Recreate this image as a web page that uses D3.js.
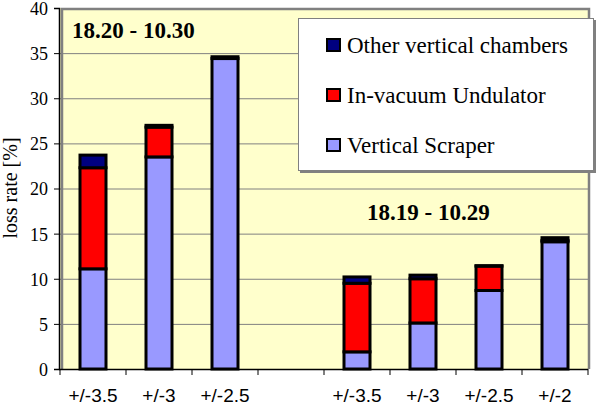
<!DOCTYPE html>
<html>
<head>
<meta charset="utf-8">
<script src="https://cdn.jsdelivr.net/npm/d3@7"></script>
<style>
  body { margin: 0; background: #fff; }
  svg { display: block; }
</style>
</head>
<body>
<svg class="chart"></svg>
<script>
// slots: first period, gap, second period
const categories = ['+/-3.5', '+/-3', '+/-2.5', '', '+/-3.5', '+/-3', '+/-2.5', '+/-2']
const scraper = [11.1, 23.5, 34.4, 0, 1.9, 5.1, 8.7, 14.1]
const undulator = [11.2, 3.3, 0, 0, 7.6, 4.9, 2.7, 0.15]
const other = [1.4, 0.2, 0.2, 0, 0.7, 0.4, 0.05, 0.3]
const seriesNames = ['Other vertical chambers', 'In-vacuum Undulator', 'Vertical Scraper']
const seriesColors = ['#000080', '#ff0000', '#9999ff']
const periods = ['18.20 - 10.30', '18.19 - 10.29']
const yTicks = [0, 5, 10, 15, 20, 25, 30, 35, 40]

const serif = 'Liberation Serif'
const sans = 'Liberation Sans'

const width = 597
const height = 405
const plotLeft = 60
const plotRight = 588
const plotTop = 8
const plotBottom = 369

const chart = d3.select('.chart').attr('width', width).attr('height', height)

const xScale = d3.scaleBand()
  .domain(d3.range(categories.length))
  .range([plotLeft, plotRight])

const yScale = d3.scaleLinear()
  .domain([0, 40])
  .range([plotBottom, plotTop])

// plot area
chart.append('rect')
  .attr('x', plotLeft).attr('y', plotTop)
  .attr('width', plotRight - plotLeft).attr('height', plotBottom - plotTop)
  .attr('fill', '#ffffcc')

chart.append('g').attr('class', 'grid')
  .selectAll('line')
  .data(yTicks.slice(1, -1))
  .enter()
  .append('line')
  .attr('x1', plotLeft).attr('x2', plotRight)
  .attr('y1', d => yScale(d) + 0.5).attr('y2', d => yScale(d) + 0.5)
  .attr('stroke', '#808080')
  .attr('stroke-width', 1)

// gray frame of the plot area
chart.append('path')
  .attr('d', `M${plotLeft + 2},${plotBottom} V${plotTop + 1} H${plotRight + 1} V${plotBottom}`)
  .attr('fill', 'none')
  .attr('stroke', '#808080')
  .attr('stroke-width', 2.5)

// stacked bars
const stacks = categories.map((c, i) => {
  const s0 = scraper[i]
  const s1 = s0 + undulator[i]
  const s2 = s1 + other[i]
  return [
    { i, y0: 0, y1: s0, color: seriesColors[2] },
    { i, y0: s0, y1: s1, color: seriesColors[1] },
    { i, y0: s1, y1: s2, color: seriesColors[0] }
  ]
}).filter((d, i) => categories[i] !== '')

const barWidth = 26
chart.append('g').attr('class', 'bars')
  .selectAll('g')
  .data(stacks)
  .enter()
  .append('g')
  .attr('transform', d => `translate(${xScale(d[0].i) + (xScale.step() - barWidth) / 2},0)`)
  .selectAll('rect')
  .data(d => d)
  .enter()
  .append('rect')
  .attr('x', 0)
  .attr('y', d => yScale(d.y1))
  .attr('width', barWidth)
  .attr('height', d => yScale(d.y0) - yScale(d.y1))
  .attr('fill', d => d.color)
  .attr('stroke', '#000')
  .attr('stroke-width', 3)

// y axis
const yAxis = chart.append('g')
  .attr('transform', `translate(${plotLeft - 1},0)`)
  .call(d3.axisLeft(yScale).tickValues(yTicks).tickSize(5).tickPadding(6))
yAxis.attr('font-family', null).attr('font-size', null)
yAxis.select('.domain').attr('stroke', '#000').attr('stroke-width', 1.5)
yAxis.selectAll('text').attr('fill', '#000').attr('dy', '0.36em')
  .style('font-family', serif).style('font-size', '18px')

// x axis
chart.append('line')
  .attr('x1', plotLeft - 1).attr('x2', plotRight)
  .attr('y1', plotBottom + 0.5).attr('y2', plotBottom + 0.5)
  .attr('stroke', '#000').attr('stroke-width', 1.5)

chart.append('g').attr('class', 'xticks')
  .selectAll('line')
  .data(d3.range(categories.length + 1))
  .enter()
  .append('line')
  .attr('x1', i => plotLeft + i * xScale.step()).attr('x2', i => plotLeft + i * xScale.step())
  .attr('y1', plotBottom).attr('y2', plotBottom + 6)
  .attr('stroke', '#000')

chart.append('g').attr('class', 'xlabels')
  .selectAll('text')
  .data(categories)
  .enter()
  .append('text')
  .attr('x', (d, i) => xScale(i) + xScale.step() / 2)
  .attr('y', 402)
  .attr('text-anchor', 'middle')
  .style('font-family', sans)
  .style('font-size', '19px')
  .text(d => d)

// y title
chart.append('text')
  .attr('transform', 'translate(17,188) rotate(-90)')
  .attr('text-anchor', 'middle')
  .style('font-family', serif)
  .style('font-size', '20px')
  .text('loss rate [%]')

// period titles
chart.append('g')
  .selectAll('text')
  .data(periods)
  .enter()
  .append('text')
  .attr('x', (d, i) => (i === 0 ? 72 : 367))
  .attr('y', (d, i) => (i === 0 ? 38 : 220))
  .style('font-family', serif)
  .style('font-size', '23px')
  .style('font-weight', 'bold')
  .text(d => d)

// legend
const legend = chart.append('g').attr('class', 'legend')
legend.append('rect')
  .attr('x', 300).attr('y', 20)
  .attr('width', 296).attr('height', 153)
  .attr('fill', '#808080')
legend.append('rect')
  .attr('x', 298.5).attr('y', 18.5)
  .attr('width', 295).attr('height', 152)
  .attr('fill', '#fff')
  .attr('stroke', '#808080')

const item = legend.selectAll('g.item')
  .data(seriesNames)
  .enter()
  .append('g')
  .attr('class', 'item')
  .attr('transform', (d, i) => `translate(327,${45 + i * 50})`)
item.append('rect')
  .attr('x', 0).attr('y', -6)
  .attr('width', 13).attr('height', 12)
  .attr('fill', (d, i) => seriesColors[i])
  .attr('stroke', '#000')
  .attr('stroke-width', 2)
item.append('text')
  .attr('x', 20)
  .attr('y', 8)
  .style('font-family', serif)
  .style('font-size', '23px')
  .text(d => d)
</script>
</body>
</html>
